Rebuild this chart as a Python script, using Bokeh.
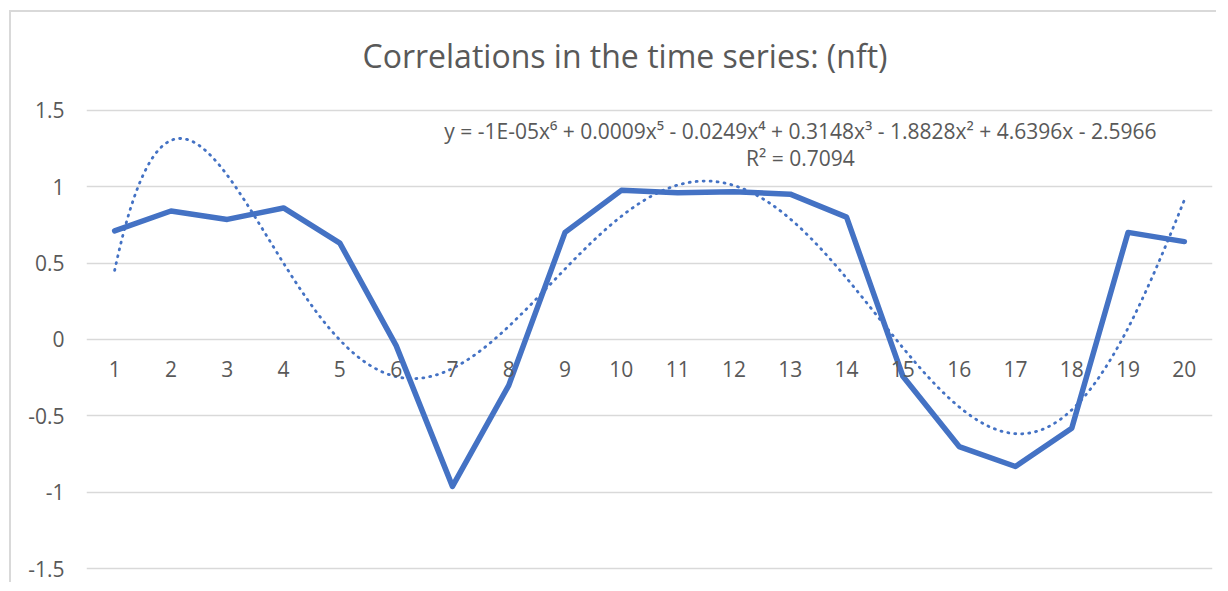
import numpy as np
from bokeh.plotting import figure
from bokeh.models import Range1d, FixedTicker, Label
from bokeh.embed import file_html
from bokeh.resources import INLINE

# ---- data ----
periods = list(range(1, 21))
correlations = [0.71, 0.84, 0.785, 0.86, 0.63, -0.04, -0.96, -0.30, 0.70, 0.975,
                0.96, 0.965, 0.95, 0.80, -0.24, -0.70, -0.83, -0.58, 0.70, 0.64]
y_ticks = [-1.5, -1.0, -0.5, 0.0, 0.5, 1.0, 1.5]
y_tick_labels = ["-1.5", "-1", "-0.5", "0", "0.5", "1", "1.5"]
title_text = "Correlations in the time series: (nft)"
equation_text = "y = -1E-05x\u2076 + 0.0009x\u2075 - 0.0249x\u2074 + 0.3148x\u00b3 - 1.8828x\u00b2 + 4.6396x - 2.5966"
r2_text = "R\u00b2 = 0.7094"

# polynomial (order 6) trendline fitted to the series, as the spreadsheet does
coef = np.polyfit(periods, correlations, 6)
xs = np.linspace(periods[0], periods[-1], 400)
ys = np.polyval(coef, xs)

BLUE = "#4472C4"
GRAY = "#595959"
GRID = "#d9d9d9"
FONT = "Open Sans"

p = figure(width=1207, height=572, output_backend="svg", toolbar_location=None,
           x_range=Range1d(0.5, 20.5), y_range=Range1d(-1.51, 1.693),
           min_border_left=75, min_border_right=6, min_border_top=68, min_border_bottom=14)
p.styles = {"border-left": "2px solid #d9d9d9", "border-top": "2px solid #d9d9d9",
            "margin-left": "9px", "margin-top": "10px"}
p.outline_line_color = None
p.background_fill_color = "white"
p.border_fill_color = "white"

p.title.text = title_text
p.title.text_font = FONT
p.title.text_font_size = "32px"
p.title.text_font_style = "normal"
p.title.text_color = GRAY
p.title.align = "left"
p.title.offset = 276
p.title.vertical_align = "bottom"
p.title.standoff = 8

# y axis
p.yaxis.ticker = FixedTicker(ticks=y_ticks)
p.yaxis.major_label_overrides = {t: l for t, l in zip(y_ticks, y_tick_labels)}
p.yaxis.axis_line_color = None
p.yaxis.major_tick_line_color = None
p.yaxis.major_tick_out = 0
p.yaxis.major_tick_in = 0
p.yaxis.minor_tick_line_color = None
p.yaxis.major_label_text_font = FONT
p.yaxis.major_label_text_font_size = "21px"
p.yaxis.major_label_text_color = GRAY
p.yaxis.major_label_standoff = 22

# x axis, crossing at zero
p.xaxis.ticker = FixedTicker(ticks=periods)
p.xaxis.fixed_location = 0
p.xaxis.axis_line_color = None
p.xaxis.major_tick_line_color = None
p.xaxis.major_tick_out = 0
p.xaxis.major_tick_in = 0
p.xaxis.minor_tick_line_color = None
p.xaxis.major_label_text_font = FONT
p.xaxis.major_label_text_font_size = "21px"
p.xaxis.major_label_text_color = GRAY
p.xaxis.major_label_standoff = 22

p.xgrid.grid_line_color = None
p.ygrid.ticker = FixedTicker(ticks=y_ticks)
p.ygrid.grid_line_color = GRID
p.ygrid.grid_line_width = 1.5

p.line(periods, correlations, line_color=BLUE, line_width=5.5, line_join="round", line_cap="round")
p.line(xs, ys, line_color=BLUE, line_width=2.8, line_dash="1 6", line_cap="round")

p.add_layout(Label(x=13.18, y=1.365, text=equation_text, text_font=FONT, text_font_size="21px",
                   text_color=GRAY, text_align="center", text_baseline="middle"))
p.add_layout(Label(x=13.18, y=1.185, text=r2_text, text_font=FONT, text_font_size="21px",
                   text_color=GRAY, text_align="center", text_baseline="middle"))

open("out.html", "w").write(file_html(p, INLINE))
